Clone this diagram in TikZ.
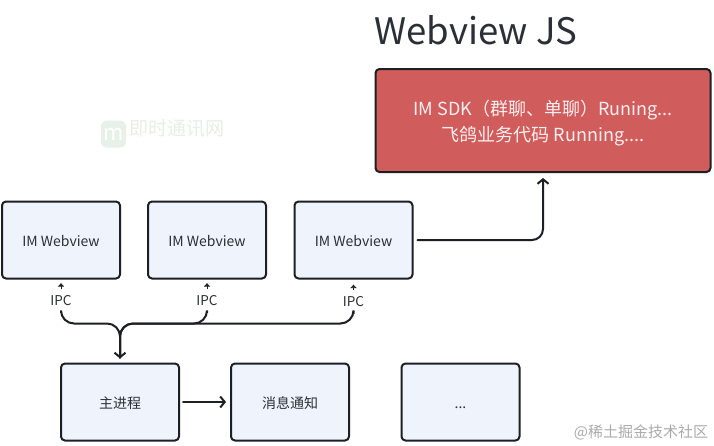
\documentclass[tikz,border=0pt]{standalone}
\usepackage{fontspec}
\setmainfont{Noto Sans CJK SC}
\usetikzlibrary{arrows.meta,calc}
\definecolor{boxfill}{HTML}{EFF3FB}
\definecolor{boxline}{HTML}{1C1F24}
\definecolor{redfill}{HTML}{D05C5C}
\definecolor{inktext}{HTML}{2B2F36}
\tikzset{
  wvbox/.style={draw=boxline,fill=boxfill,line width=2pt,rounded corners=4pt,minimum width=118pt,minimum height=77pt,inner sep=0pt,text=inktext,text height=12pt,text depth=0pt,font=\fontsize{14}{16}\selectfont},
  redbox/.style={draw=boxline,fill=redfill,line width=2pt,rounded corners=4pt,minimum width=335pt,minimum height=103pt,inner sep=0pt},
  redtext/.style={inner sep=0pt,text=white!90!redfill,align=center,font=\fontsize{18}{26}\selectfont},
  ipclabel/.style={inner sep=0pt,minimum height=23pt,text=inktext,font=\fontsize{13.5}{15}\selectfont},
  flow/.style={draw=boxline,line width=2pt,line cap=round,-{Straight Barb[length=4.5pt,width=11pt,line width=2pt]}},
  merge/.style={draw=boxline,line width=2pt,line cap=round,rounded corners=13pt},
  tick/.style={draw=boxline,line width=.6pt,-{Latex[length=3.5pt,width=7pt]}},
}
\begin{document}
\begin{tikzpicture}[x=1pt,y=-1pt]
\useasboundingbox (0,0) rectangle (714,445);
\fill[white] (0,0) rectangle (714,445);
% watermarks
\node[inner sep=0pt,text=green!25!black!9] (wmark) at (177,128) {\fontsize{19}{22}\selectfont 即时通讯网};
\node[fill=green!40!black!9,rounded corners=6pt,minimum width=25pt,minimum height=27pt,inner sep=0pt,text=white] (wlogo) at (113.5,134) {\fontsize{22}{24}\selectfont\itshape m};
\node[inner sep=0pt,text=black!33] (wjj) at (641,432) {\fontsize{15}{17}\selectfont @稀土掘金技术社区};
% title
\node[inner sep=0pt,text=inktext] (title) at (476,30) {\fontsize{36.5}{40}\selectfont Webview JS};
% boxes
\node[redbox] (red) at (543,120.5) {};
\node[redtext] (redlabel) at (543,123) {IM SDK（群聊、单聊）Runing...\\飞鸽业务代码 Running....};
\node[wvbox] (w1) at (61,240) {IM Webview};
\node[wvbox] (w2) at (207,240) {IM Webview};
\node[wvbox] (w3) at (353.5,240) {IM Webview};
\node[wvbox] (main) at (120,402) {主进程};
\node[wvbox] (msg) at (290,402) {消息通知};
\node[wvbox] (more) at (460.5,402) {...};
% labels
\node[ipclabel] (i1) at (61,301) {IPC};
\node[ipclabel] (i2) at (207,301) {IPC};
\node[ipclabel] (i3) at (353.5,302) {IPC};
% connectors
\draw[tick,shorten >=3.5pt] (i1.north) -- (w1.south);
\draw[tick,shorten >=3.5pt] (i2.north) -- (w2.south);
\draw[tick,shorten >=5pt] (i3.north) -- (w3.south);
\draw[merge] (i1.south) |- ($(main.north)+(0,-39)$) -- ($(main.north)+(0,-5)$);
\draw[merge] (i2.south) |- ($(main.north)+(0,-39)$) -- ($(main.north)+(0,-5)$);
\draw[merge] (i3.south) |- ($(main.north)+(0,-39)$) -- ($(main.north)+(0,-5)$);
\draw[flow,shorten >=4pt] ($(main.north)+(0,-20)$) -- (main.north);
\draw[flow,shorten <=4pt,shorten >=4pt] (main) ++(59,0) -- (msg.west);
\draw[flow,rounded corners=11pt,shorten <=4pt,shorten >=5pt] (w3.east) -| (red.south);
\end{tikzpicture}
\end{document}
